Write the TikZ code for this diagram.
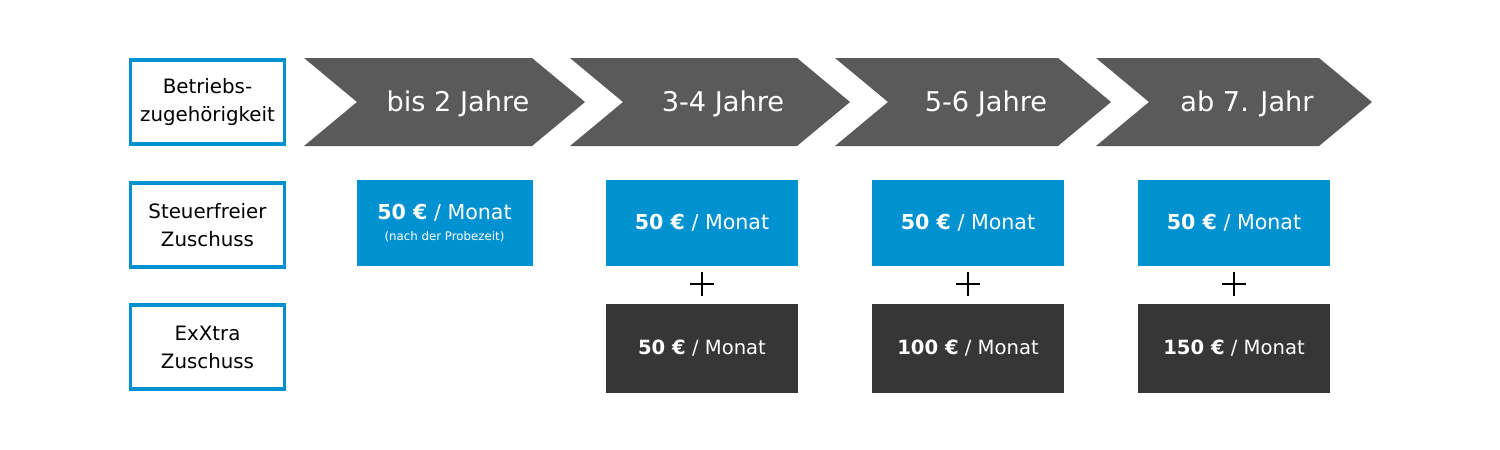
\documentclass[tikz,border=0pt]{standalone}
\usepackage{fontspec}
\setmainfont{DejaVu Sans}
\usepackage{tikz}

\definecolor{boxblue}{RGB}{0,145,208}
\definecolor{stepgray}{RGB}{90,90,90}
\definecolor{darkbox}{RGB}{54,54,54}

\begin{document}
\begin{tikzpicture}[
			x=0.5pt, y=-0.5pt,
			label/.style={rectangle, draw=boxblue, line width=1.6pt, fill=white, minimum width=77pt, minimum height=42pt, inner sep=0pt, align=center, font=\fontsize{9.9}{14}\selectfont},
			step text/.style={text=white, font=\fontsize{13.6}{16}\selectfont},
			subsidy/.style={rectangle, fill=boxblue, text=white, minimum width=96pt, minimum height=43pt, inner sep=0pt, align=center, font=\fontsize{10.3}{12}\selectfont},
			extra/.style={rectangle, fill=darkbox, text=white, minimum width=96pt, minimum height=44.5pt, inner sep=0pt, align=center, font=\fontsize{9.8}{12}\selectfont},
			plus/.style={line width=0.7pt}
			]
			
			\useasboundingbox (0,0) rectangle (1500,450);
			
			% Row labels
			\node[label] (lblTime) at (207.5,102) {Betriebs-\\zugehörigkeit};
			\node[label] (lblFree) at (207.5,225) {Steuerfreier\\Zuschuss};
			\node[label] (lblExtra) at (207.5,347) {ExXtra\\Zuschuss};
			
			% Steps
			\fill[stepgray] (304,58) -- (532,58) -- (585,102) -- (532,146) -- (304,146) -- (357,102) -- cycle;
			\node[step text] (step1) at (458,104) {bis 2 Jahre};
			
			\fill[stepgray] (570,58) -- (797,58) -- (850,102) -- (797,146) -- (570,146) -- (623,102) -- cycle;
			\node[step text] (step2) at (723,104) {3-4 Jahre};
			
			\fill[stepgray] (835,58) -- (1058,58) -- (1111,102) -- (1058,146) -- (835,146) -- (888,102) -- cycle;
			\node[step text] (step3) at (986,104) {5-6 Jahre};
			
			\fill[stepgray] (1096,58) -- (1319,58) -- (1372,102) -- (1319,146) -- (1096,146) -- (1149,102) -- cycle;
			\node[step text] (step4) at (1247,104) {ab 7. Jahr};
			
			% Tax-free subsidy
			\node[subsidy, minimum width=88pt] (free1) at (444.5,223) {\textbf{50 €} / Monat\\[-1.5pt]{\fontsize{5.9}{7}\selectfont (nach der Probezeit)}};
			\node[subsidy] (free2) at (702,223) {\textbf{50 €} / Monat};
			\node[subsidy] (free3) at (968,223) {\textbf{50 €} / Monat};
			\node[subsidy] (free4) at (1234,223) {\textbf{50 €} / Monat};
			
			% Plus signs
			\draw[plus] (690,284) -- (714,284) (702,272) -- (702,296);
			\draw[plus] (956,284) -- (980,284) (968,272) -- (968,296);
			\draw[plus] (1222,284) -- (1246,284) (1234,272) -- (1234,296);
			
			% Extra subsidy
			\node[extra] (extra2) at (702,348) {\textbf{50 €} / Monat};
			\node[extra] (extra3) at (968,348) {\textbf{100 €} / Monat};
			\node[extra] (extra4) at (1234,348) {\textbf{150 €} / Monat};
			
		\end{tikzpicture}
\end{document}
